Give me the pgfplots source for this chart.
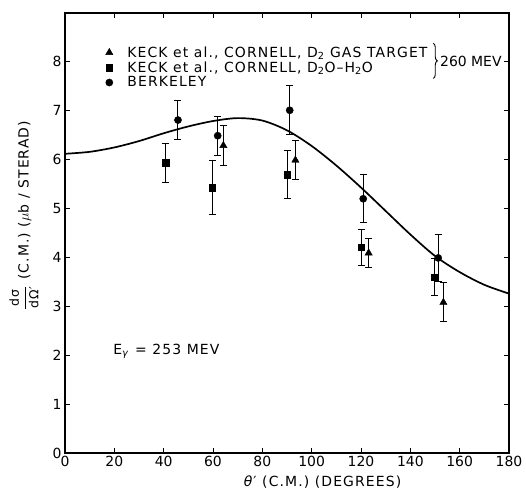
\documentclass[border=0pt]{standalone}
\usepackage{amsmath}
\usepackage{fontspec}
\setmainfont{DejaVu Sans}
\newfontfamily\lbl{DejaVu Sans}[LetterSpace=8]
\usepackage{pgfplots}
\usepackage{pgfplotstable}
\pgfplotsset{compat=1.18}
\usetikzlibrary{calc,decorations.pathreplacing}

\pgfplotstableread{
x y e
64.2 6.29 0.40
93.4 5.99 0.40
123.1 4.09 0.30
153.4 3.08 0.40
}\gastarget
\pgfplotstableread{
x y e
40.8 5.94 0.40
59.7 5.43 0.55
90.0 5.69 0.49
120.0 4.21 0.37
149.7 3.60 0.38
}\water
\pgfplotstableread{
x y e
45.8 6.81 0.40
61.9 6.49 0.40
91.1 7.01 0.50
120.9 5.20 0.49
151.3 3.99 0.48
}\berkeley
\pgfplotstableread{
x y
0 6.12
10 6.16
20 6.25
30 6.38
40 6.54
50 6.68
60 6.79
70 6.85
80 6.80
90 6.60
100 6.28
110 5.88
120 5.43
130 4.95
140 4.47
150 4.03
160 3.70
170 3.44
180 3.26
}\theory

\begin{document}
\begin{tikzpicture}
\begin{axis}[
  scale only axis, width=444bp, height=440bp,
  xmin=0, xmax=180, ymin=0, ymax=9,
  xtick={0,20,...,180}, ytick={0,1,...,8},
  tick align=inside, tick pos=both,
  major tick length=5bp,
  axis line style={line width=1.1pt},
  every tick/.style={line width=1pt, black},
  tick label style={font=\fontsize{14}{14}\selectfont},
  /pgf/number format/assume math mode=true,
  xlabel={\textit{θ}′ (C.M.) (DEGREES)},
  xlabel style={at={(rel axis cs:0.58,0)}, anchor=center, yshift=-29bp, font=\lbl\fontsize{14}{14}\selectfont},
  ylabel={$\dfrac{\text{\lbl\fontsize{12.5}{12.5}\selectfont dσ}}{\text{\lbl\fontsize{12.5}{12.5}\selectfont dΩ′}}$ (C.M.) ($\mu$b / STERAD)},
  ylabel style={at={(rel axis cs:0,0.54)}, anchor=center, yshift=41bp, font=\lbl\fontsize{14}{14}\selectfont},
  legend style={at={(axis cs:15.2,8.39)}, anchor=north west, draw=none, fill=none,
    font=\lbl\fontsize{14}{14}\selectfont, row sep=0bp, nodes={inner sep=1.5bp},
    /tikz/every odd column/.append style={column sep=13bp}},
  legend cell align=left,
  clip=false,
]
\addplot[only marks, mark=triangle*, mark size=4.2bp, mark options={fill=black, draw=black}, black,
  error bars/.cd, y dir=both, y explicit,
  error bar style={line width=1pt, black},
  error mark options={rotate=90, mark size=3.5bp, line width=1pt, black}]
  table[x=x, y=y, y error=e]{\gastarget};
\addlegendentry{KECK et al., CORNELL, D\textsubscript{2} GAS TARGET}
\addplot[only marks, mark=square*, mark size=3.2bp, mark options={fill=black, draw=black}, black,
  error bars/.cd, y dir=both, y explicit,
  error bar style={line width=1pt, black},
  error mark options={rotate=90, mark size=3.5bp, line width=1pt, black}]
  table[x=x, y=y, y error=e]{\water};
\addlegendentry{KECK et al., CORNELL, D\textsubscript{2}O–H\textsubscript{2}O}
\addplot[only marks, mark=*, mark size=3.6bp, mark options={fill=black, draw=black}, black,
  error bars/.cd, y dir=both, y explicit,
  error bar style={line width=1pt, black},
  error mark options={rotate=90, mark size=3.5bp, line width=1pt, black}]
  table[x=x, y=y, y error=e]{\berkeley};
\addlegendentry{BERKELEY}
\addplot[smooth, no marks, black, line width=1.7pt, forget plot] table[x=x, y=y]{\theory};
\draw[decorate, decoration={brace, amplitude=4bp}, line width=0.9pt] (axis cs:149.3,8.38) -- (axis cs:149.3,7.66);
\node[anchor=west, font=\fontsize{14}{14}\selectfont, inner sep=0pt] at (axis cs:152,8.0) {260 MEV};
\node[anchor=west, font=\lbl\fontsize{14}{14}\selectfont, inner sep=0pt] at (axis cs:19.5,2.08) {E\textsubscript{\textit{γ}} = 253 MEV};
\end{axis}
\pgfresetboundingbox
\path[use as bounding box] ($(current axis.south west)+(-65bp,-38bp)$) rectangle ($(current axis.north east)+(17bp,13bp)$);
\end{tikzpicture}
\end{document}
